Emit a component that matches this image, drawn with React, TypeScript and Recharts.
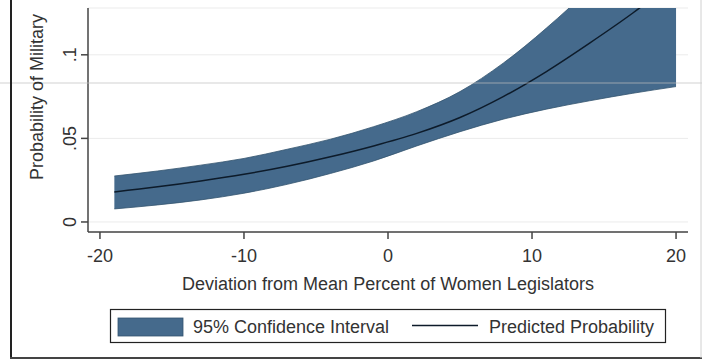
import { Area, CartesianGrid, ComposedChart, Line, XAxis, YAxis } from 'recharts'

// Predicted probability with 95% CI.
const deviation = [-19, -16, -13, -10, -7, -4, -1, 2, 5, 8, 11, 14, 17, 20]
const predicted = [0.018, 0.021, 0.0245, 0.0285, 0.0333, 0.039, 0.0455, 0.053, 0.0625, 0.075, 0.09, 0.107, 0.125, 0.145]
const ciLower = [0.0078, 0.0102, 0.0132, 0.0172, 0.0225, 0.029, 0.0365, 0.0455, 0.054, 0.0615, 0.0675, 0.0725, 0.077, 0.081]
const ciUpper = [0.0275, 0.0305, 0.034, 0.038, 0.0435, 0.0495, 0.057, 0.066, 0.078, 0.095, 0.116, 0.14, 0.17, 0.2]
const xTicks = [-20, -10, 0, 10, 20]
const yTicks = [0, 0.05, 0.1]
const yTickLabels = ['0', '.05', '.1']

const FONT = '"Liberation Sans", Arial, sans-serif'
const BAND = '#456a8c'
const INK = '#333'

const data = deviation.map((x, i) => ({ x, p: predicted[i], lo: ciLower[i], hi: ciUpper[i] }))

function RotatedTick({ x, y, payload }: any) {
  const i = yTicks.indexOf(payload.value)
  const bx = x - 3
  return (
    <text x={bx} y={y} transform={`rotate(-90, ${bx}, ${y})`} textAnchor="middle" fontSize={18} fontFamily={FONT} fill={INK}>
      {i >= 0 ? yTickLabels[i] : payload.value}
    </text>
  )
}

export default function App() {
  return (
    <div style={{ position: 'absolute', left: 0, top: 0, width: 702, height: 360, background: '#fff' }}>
      <ComposedChart width={702} height={360} data={data} margin={{ top: 8, right: 14, bottom: 0, left: 0 }}>
        <CartesianGrid vertical={false} stroke="#ebebeb" />
        <XAxis
          type="number"
          dataKey="x"
          domain={[-20.83, 20.83]}
          ticks={xTicks}
          height={128}
          tickSize={7}
          tickMargin={10}
          stroke="#444"
          strokeWidth={1.5}
          tick={{ fontSize: 18, fontFamily: FONT, fill: INK }}
        />
        <YAxis
          type="number"
          domain={[-0.006, 0.128]}
          allowDataOverflow
          ticks={yTicks}
          width={88}
          tickSize={7}
          stroke="#444"
          strokeWidth={1.5}
          tick={<RotatedTick />}
        />
        <Area
          type="monotone"
          dataKey={(d: any) => [d.lo, d.hi]}
          fill={BAND}
          fillOpacity={1}
          stroke="#34546f"
          strokeWidth={0.8}
          isAnimationActive={false}
        />
        <Line type="monotone" dataKey="p" stroke="#0d1b2a" strokeWidth={1.5} dot={false} isAnimationActive={false} />
      </ComposedChart>
      <svg width={702} height={360} style={{ position: 'absolute', left: 0, top: 0, pointerEvents: 'none' }}>
        <line x1={0} y1={83} x2={702} y2={83} stroke="#bdbdbd" strokeOpacity={0.7} />
        <line x1={11} y1={0} x2={11} y2={358} stroke="#222" strokeWidth={2} />
        <line x1={10} y1={358} x2={702} y2={358} stroke="#444" strokeWidth={2} />
        <line x1={701} y1={0} x2={701} y2={358} stroke="#d0d0d0" />
        <text x={43} y={97} transform="rotate(-90, 43, 97)" textAnchor="middle" fontSize={18} fontFamily={FONT} fill={INK}>
          Probability of Military
        </text>
        <text x={388} y={290} textAnchor="middle" fontSize={18} fontFamily={FONT} fill={INK}>
          Deviation from Mean Percent of Women Legislators
        </text>
        <rect x={110.5} y={309.5} width={555} height={33} fill="#fff" stroke="#222" strokeWidth={1.2} />
        <rect x={118} y={318} width={65} height={18} fill={BAND} stroke="#34546f" strokeWidth={0.8} />
        <text x={193} y={333} fontSize={18} fontFamily={FONT} fill={INK}>
          95% Confidence Interval
        </text>
        <line x1={412} y1={325.5} x2={478} y2={325.5} stroke="#0d1b2a" strokeWidth={1.5} />
        <text x={489} y={333} fontSize={18} fontFamily={FONT} fill={INK}>
          Predicted Probability
        </text>
      </svg>
    </div>
  )
}
